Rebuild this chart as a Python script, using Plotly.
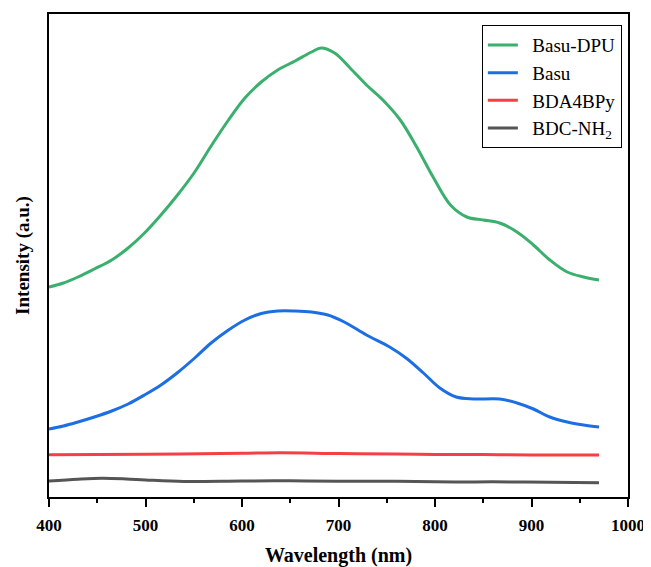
import plotly.graph_objects as go

# Wavelength grids (nm) and intensities (a.u.)
wl_green = [400, 415, 430, 447, 465, 482, 499, 516, 534, 551, 568, 586, 603, 620, 637, 655, 672,
            682, 696, 712, 729, 746, 764, 781, 798, 816, 833, 850, 867, 885, 902, 919, 937, 954, 970]
basu_dpu = [210, 214, 220, 228, 237, 249, 264, 282, 303, 325, 351, 377, 399, 415, 427, 436, 445,
            449, 444, 429, 412, 397, 377, 350, 320, 292, 280, 277, 274, 265, 252, 237, 225, 220, 217]

wl_blue = [400, 415, 430, 447, 465, 482, 499, 516, 534, 551, 568, 586, 603, 620, 637, 655, 672,
           689, 706, 729, 753, 770, 788, 805, 822, 840, 867, 885, 902, 919, 937, 954, 970]
basu = [68, 71, 75, 80, 86, 93, 102, 112, 125, 139, 154, 167, 177, 183.5, 186, 186, 185,
        182, 175, 162, 150, 139, 124, 109, 100, 98, 98, 94, 88, 80, 75, 72, 70]

wl_red = [400, 500, 600, 640, 700, 760, 800, 850, 900, 970]
bda4bpy = [42.3, 42.8, 43.8, 44.3, 43.5, 43.0, 42.5, 42.5, 42.0, 42.0]

wl_gray = [400, 430, 455, 480, 500, 540, 600, 650, 700, 760, 820, 860, 920, 970]
bdc_nh2 = [16.0, 17.8, 18.7, 18.0, 17.0, 15.5, 16.0, 16.2, 15.8, 15.8, 15.0, 15.2, 14.7, 14.3]

series = [
    ("Basu-DPU", wl_green, basu_dpu, "#3bb06e"),
    ("Basu", wl_blue, basu, "#1c6fe3"),
    ("BDA4BPy", wl_red, bda4bpy, "#f43f45"),
    ("BDC-NH<sub>2</sub>", wl_gray, bdc_nh2, "#555555"),
]

fig = go.Figure()
for name, x, y, c in series:
    fig.add_trace(go.Scatter(x=x, y=y, name="&nbsp;&nbsp;" + name, mode="lines",
                             line=dict(color=c, width=3, shape="spline", smoothing=1.0)))

font_family = "Liberation Serif, Times New Roman, serif"
# the page body adds an 8 px offset; figure is sized so the page does not overflow
fig.update_layout(
    width=643, height=559,
    margin=dict(l=41, r=23, t=6, b=70),
    paper_bgcolor="white", plot_bgcolor="white",
    font=dict(family=font_family, color="black"),
    showlegend=True,
    legend=dict(x=0.7476, y=0.977, xanchor="left", yanchor="top",
                bordercolor="black", borderwidth=1, bgcolor="white",
                font=dict(size=19, family=font_family, color="black"),
                tracegroupgap=0),
)
fig.update_xaxes(range=[400, 1000], tickmode="linear", tick0=400, dtick=100,
                 ticks="outside", ticklen=8, tickwidth=2, tickcolor="black",
                 minor=dict(ticks="outside", ticklen=4, tickwidth=2, tickcolor="black", dtick=50),
                 showline=True, linewidth=2, linecolor="black", mirror=True,
                 showgrid=False, zeroline=False, automargin=False,
                 ticklabelstandoff=4,
                 tickfont=dict(size=17, family=font_family, color="black", weight="bold"),
                 title=dict(text="<b>Wavelength (nm)</b>", font=dict(size=20, family=font_family),
                            standoff=14))
fig.update_yaxes(range=[0, 483], showticklabels=False, ticks="",
                 showline=True, linewidth=2, linecolor="black", mirror=True,
                 showgrid=False, zeroline=False, automargin=False,
                 title=dict(text="<b>Intensity (a.u.)</b>", font=dict(size=19, family=font_family),
                            standoff=12))

fig.write_html("out.html")
